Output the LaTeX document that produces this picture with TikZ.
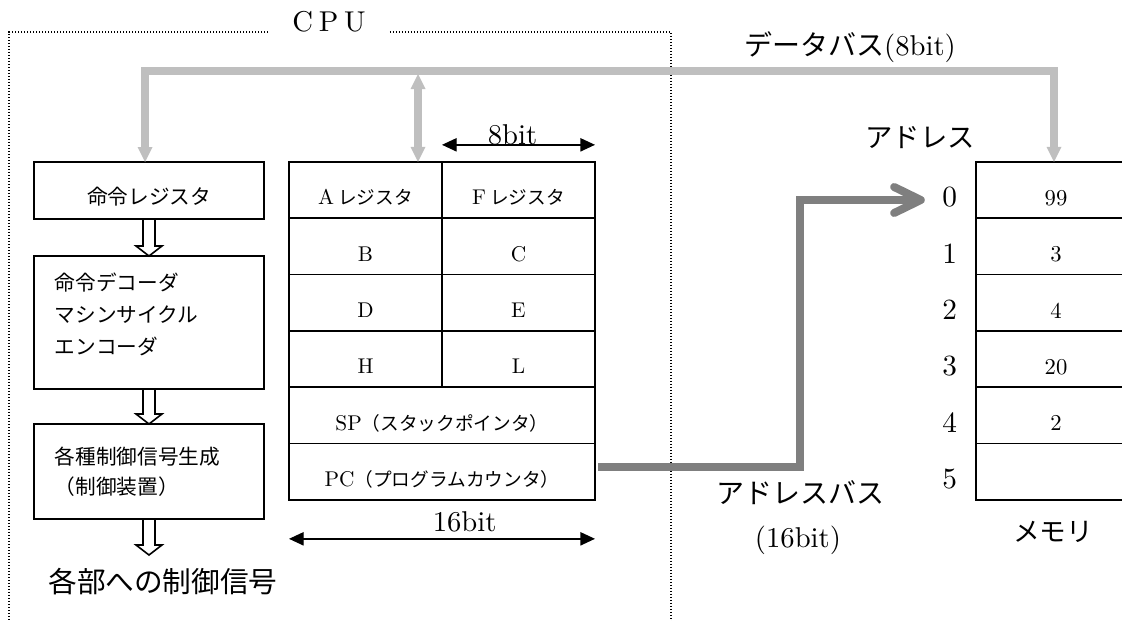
\documentclass[tikz,border=0pt]{standalone}
\usepackage{fontspec}
\usetikzlibrary{arrows.meta, positioning, calc}
\setmainfont{lmroman10-regular.otf}
\newfontfamily\jp{Noto Sans CJK JP}
\definecolor{databusgray}{HTML}{BFBFBF}
\definecolor{addrbusgray}{HTML}{7F7F7F}
\newcommand{\fsz}[1]{\fontsize{#1}{#1}\selectfont}
\newcommand{\regjp}[1]{{\jp\fsz{14pt}#1}}
% hollow block arrow between two anchors
\newcommand{\hollowdown}[2]{%
  \draw[hollowarrow] ($(#1)+(-6,0)$) -- ($(#2)+(-6,-10)$) -- ($(#2)+(-13,-10)$) -- (#2)
    -- ($(#2)+(13,-10)$) -- ($(#2)+(6,-10)$) -- ($(#1)+(6,0)$);}
\tikzset{
  regcell/.style={draw, line width=1.2pt, inner sep=0pt, outer sep=0pt, minimum height=42.25pt},
  halfreg/.style={regcell, minimum width=114.75pt, font=\fsz{16pt}, text height=22pt, text depth=0pt},
  fullreg/.style={regcell, minimum width=229.5pt, font=\fsz{16pt}, text height=22pt, text depth=0pt},
  memcell/.style={regcell, minimum width=120pt, font=\fsz{17pt}, text height=23pt, text depth=0pt},
  addrnum/.style={inner sep=0pt, font=\fsz{22pt}, yshift=-5.6pt},
  ctrlbox/.style={draw, line width=1.2pt, minimum width=172.5pt, inner sep=0pt, outer sep=0pt},
  hollowarrow/.style={line width=1.2pt, line join=miter},
  databusline/.style={draw=databusgray, line width=6pt},
  addrbusline/.style={draw=addrbusgray, line width=6pt},
  bustip/.tip={Triangle[width=11.25pt, length=11.25pt, line width=0pt]},
  dimline/.style={line width=1pt, {Triangle[length=11pt, width=10pt]}-{Triangle[length=11pt, width=10pt]}},
  cpuframe/.style={line width=0.9pt, dash pattern=on 0.9pt off 1.35pt},
  biglabel/.style={inner sep=0pt, font=\jp\fsz{21pt}},
  numlabel/.style={inner sep=0pt, font=\fsz{21.5pt}}
}

\begin{document}
\begin{tikzpicture}[x=0.75pt, y=-0.75pt]
  \useasboundingbox (0,0) rectangle (1122,621);
  \clip (0,0) rectangle (1122,621);

  % CPU frame
  \node[numlabel, inner xsep=18pt] (cpu) at (329,22) {C\hspace{.2em}P\hspace{.2em}U};
  \coordinate (frameTL) at (9,32);
  \coordinate (frameTR) at (671,32);
  \draw[cpuframe] (cpu.west |- frameTL) -- (frameTL) -- ++(0,600);
  \draw[cpuframe] (cpu.east |- frameTR) -- (frameTR) -- ++(0,600);

  % control unit
  \node[ctrlbox, minimum height=42.75pt, font=\jp\fsz{15.5pt}, text height=20.8pt, text depth=0pt] (instr) at (149,190.5) {命令レジスタ};
  \node[ctrlbox, below=27.75pt of instr, minimum height=99.75pt, text width=141pt, align=left,
        font=\jp\fontsize{15.5pt}{24pt}\selectfont, text depth=61pt] (decoder) {命令デコーダ\\マシンサイクル\\エンコーダ};
  \node[ctrlbox, below=26.25pt of decoder, minimum height=71.25pt, text width=141pt, align=left,
        font=\jp\fontsize{15.5pt}{22.5pt}\selectfont] (ctrlgen) {各種制御信号生成\\（制御装置）};
  \node[biglabel, font=\jp\fsz{21.5pt}] (signals) at (163,582) {各部への制御信号};
  \coordinate (sigtip) at (149,555);
  \hollowdown{instr.south}{decoder.north}
  \hollowdown{decoder.south}{ctrlgen.north}
  \hollowdown{ctrlgen.south}{sigtip}

  % registers
  \node[halfreg] (regA) at (365.5,190) {A\hspace{.2em}\regjp{レジスタ}};
  \node[halfreg, right=0pt of regA] (regF) {F\hspace{.2em}\regjp{レジスタ}};
  \node[halfreg, below=0pt of regA] (regB) {B};
  \node[halfreg, below=0pt of regF] (regC) {C};
  \node[halfreg, below=0pt of regB] (regD) {D};
  \node[halfreg, below=0pt of regC] (regE) {E};
  \node[halfreg, below=0pt of regD] (regH) {H};
  \node[halfreg, below=0pt of regE] (regL) {L};
  \node[fullreg, below=0pt of regH.south east] (regSP) {SP\regjp{（スタックポインタ）}};
  \node[fullreg, below=0pt of regSP] (regPC) {PC\regjp{（プログラムカウンタ）}};

  \draw[dimline] ($(regF.north west)+(0,-17)$) -- ($(regF.north east)+(0,-17)$)
    node[midway, anchor=base, numlabel, xshift=-4.5pt] (bits8) {8bit};
  \draw[dimline] ($(regPC.south west)+(0,39)$) -- ($(regPC.south east)+(0,39)$)
    node[midway, anchor=base, numlabel, xshift=17pt, yshift=5.25pt] (bits16) {16bit};

  % memory
  \node[memcell] (mem0) at (1056,190) {99};
  \foreach \v [count=\i] in {3,4,20,2} {
    \pgfmathtruncatemacro\prev{\i-1}
    \node[memcell, below=0pt of mem\prev] (mem\i) {\v};
  }
  \node[memcell, below=0pt of mem4] (mem5) {};
  \foreach \i in {0,...,5}
    \node[addrnum, left=14pt of mem\i.west] (addr\i) {\i};
  \node[biglabel, font=\jp\fsz{20.5pt}] (addrhead) at (920,138) {アドレス};
  \node[biglabel, font=\jp\fsz{20pt}] (memlabel) at (1053,532) {メモリ};

  % data bus
  \coordinate (busL) at (145,71);
  \coordinate (busR) at (1054,71);
  \coordinate (busM) at (418,74);
  \draw[databusline, {bustip}-{bustip}] (instr.north -| busL) -- (busL) -- (busR) -- (mem0.north -| busR);
  \draw[databusline, {bustip}-{bustip}] (busM) -- (regA.north -| busM);
  \node[biglabel] (dbuslabel) at (850,47) {データバス{\rmfamily\fsz{21.5pt}(8bit)}};

  % address bus
  \coordinate (abusbend) at (800,200);
  \draw[addrbusline, -{Straight Barb[length=20pt, width=19.5pt, round]}, shorten >=13pt]
    ($(regPC.east)+(3,-5)$) -| (abusbend) -- (addr0.west |- abusbend);
  \node[biglabel] (abuslabel) at (800,493) {アドレスバス};
  \node[numlabel] (abusbits) at (798,540) {(16bit)};
\end{tikzpicture}
\end{document}
